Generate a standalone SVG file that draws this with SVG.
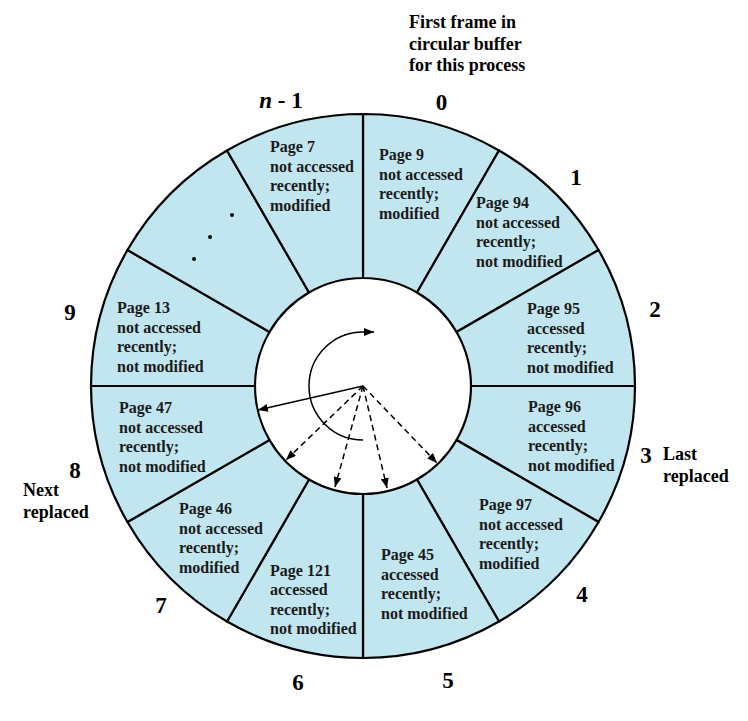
<svg xmlns="http://www.w3.org/2000/svg" width="748" height="721" viewBox="0 0 748 721">
<style>
.seg{fill:#c2e6f0;stroke:#000;stroke-width:2.2;stroke-linejoin:round}
.t{font-family:"Liberation Serif","Times New Roman",serif;font-weight:bold;font-size:16px;fill:#1a1a1a}
.num{font-family:"Liberation Serif","Times New Roman",serif;font-weight:bold;font-size:23px;fill:#000;text-anchor:middle}
.ann{font-family:"Liberation Serif","Times New Roman",serif;font-weight:bold;font-size:18px;fill:#000}
.arr{fill:none;stroke:#000;stroke-width:1.5}
.dash{stroke-dasharray:6 4}
</style>
<defs>
<marker id="ah" viewBox="0 0 10 8" refX="10" refY="4" markerWidth="10" markerHeight="8" markerUnits="userSpaceOnUse" orient="auto">
<path d="M0 0 L10 4 L0 8 Z" fill="#000"/>
</marker>
</defs>
<rect width="748" height="721" fill="#fff"/>

<g id="seg0">
<path class="seg" d="M363 278 L363 114 A272 272 0 0 1 499 150.44 L417 292.47 A108 108 0 0 0 363 278 Z"/>
<text class="t" x="379" y="160">Page 9<tspan x="379" dy="19.5">not accessed</tspan><tspan x="379" dy="19.5">recently;</tspan><tspan x="379" dy="19.5">modified</tspan></text>
<text class="num" x="441.5" y="110">0</text>
</g>
<g id="seg1">
<path class="seg" d="M417 292.47 L499 150.44 A272 272 0 0 1 598.56 250 L456.53 332 A108 108 0 0 0 417 292.47 Z"/>
<text class="t" x="476" y="208">Page 94<tspan x="476" dy="19.6">not accessed</tspan><tspan x="476" dy="19.6">recently;</tspan><tspan x="476" dy="19.6">not modified</tspan></text>
<text class="num" x="576" y="185">1</text>
</g>
<g id="seg2">
<path class="seg" d="M456.53 332 L598.56 250 A272 272 0 0 1 635 386 L471 386 A108 108 0 0 0 456.53 332 Z"/>
<text class="t" x="527" y="314">Page 95<tspan x="527" dy="19.5">accessed</tspan><tspan x="527" dy="19.5">recently;</tspan><tspan x="527" dy="19.5">not modified</tspan></text>
<text class="num" x="655" y="317">2</text>
</g>
<g id="seg3">
<path class="seg" d="M471 386 L635 386 A272 272 0 0 1 598.56 522 L456.53 440 A108 108 0 0 0 471 386 Z"/>
<text class="t" x="528" y="412">Page 96<tspan x="528" dy="19.6">accessed</tspan><tspan x="528" dy="19.6">recently;</tspan><tspan x="528" dy="19.6">not modified</tspan></text>
<text class="num" x="646" y="463">3</text>
<text class="ann" x="663" y="460">Last<tspan x="663" dy="22">replaced</tspan></text>
</g>
<g id="seg4">
<path class="seg" d="M456.53 440 L598.56 522 A272 272 0 0 1 499 621.56 L417 479.53 A108 108 0 0 0 456.53 440 Z"/>
<text class="t" x="479" y="510">Page 97<tspan x="479" dy="19.6">not accessed</tspan><tspan x="479" dy="19.6">recently;</tspan><tspan x="479" dy="19.6">modified</tspan></text>
<text class="num" x="582" y="602">4</text>
</g>
<g id="seg5">
<path class="seg" d="M417 479.53 L499 621.56 A272 272 0 0 1 363 658 L363 494 A108 108 0 0 0 417 479.53 Z"/>
<text class="t" x="381" y="560">Page 45<tspan x="381" dy="19.5">accessed</tspan><tspan x="381" dy="19.5">recently;</tspan><tspan x="381" dy="19.5">not modified</tspan></text>
<text class="num" x="448" y="688">5</text>
</g>
<g id="seg6">
<path class="seg" d="M363 494 L363 658 A272 272 0 0 1 227 621.56 L309 479.53 A108 108 0 0 0 363 494 Z"/>
<text class="t" x="270" y="576">Page 121<tspan x="270" dy="19.4">accessed</tspan><tspan x="270" dy="19.4">recently;</tspan><tspan x="270" dy="19.4">not modified</tspan></text>
<text class="num" x="298" y="690">6</text>
</g>
<g id="seg7">
<path class="seg" d="M309 479.53 L227 621.56 A272 272 0 0 1 127.44 522 L269.47 440 A108 108 0 0 0 309 479.53 Z"/>
<text class="t" x="179" y="514">Page 46<tspan x="179" dy="19.6">not accessed</tspan><tspan x="179" dy="19.6">recently;</tspan><tspan x="179" dy="19.6">modified</tspan></text>
<text class="num" x="161" y="613">7</text>
</g>
<g id="seg8">
<path class="seg" d="M269.47 440 L127.44 522 A272 272 0 0 1 91 386 L255 386 A108 108 0 0 0 269.47 440 Z"/>
<text class="t" x="119" y="413">Page 47<tspan x="119" dy="19.7">not accessed</tspan><tspan x="119" dy="19.7">recently;</tspan><tspan x="119" dy="19.7">not modified</tspan></text>
<text class="num" x="75" y="478">8</text>
<text class="ann" x="23" y="496">Next<tspan x="23" dy="22">replaced</tspan></text>
</g>
<g id="seg9">
<path class="seg" d="M255 386 L91 386 A272 272 0 0 1 127.44 250 L269.47 332 A108 108 0 0 0 255 386 Z"/>
<text class="t" x="117" y="313">Page 13<tspan x="117" dy="19.6">not accessed</tspan><tspan x="117" dy="19.6">recently;</tspan><tspan x="117" dy="19.6">not modified</tspan></text>
<text class="num" x="70" y="320">9</text>
</g>
<g id="seg10">
<path class="seg" d="M269.47 332 L127.44 250 A272 272 0 0 1 227 150.44 L309 292.47 A108 108 0 0 0 269.47 332 Z"/>
<circle cx="232" cy="215" r="2" fill="#000"/>
<circle cx="210" cy="237" r="2" fill="#000"/>
<circle cx="194" cy="259" r="2" fill="#000"/>
</g>
<g id="seg11">
<path class="seg" d="M309 292.47 L227 150.44 A272 272 0 0 1 363 114 L363 278 A108 108 0 0 0 309 292.47 Z"/>
<text class="t" x="270" y="152">Page 7<tspan x="270" dy="19.7">not accessed</tspan><tspan x="270" dy="19.7">recently;</tspan><tspan x="270" dy="19.7">modified</tspan></text>
<text class="num" x="281" y="108"><tspan font-style="italic">n</tspan> - 1</text>
</g>

<g id="first-frame-note">
<text class="ann" x="409" y="28">First frame in<tspan x="409" dy="21.5">circular buffer</tspan><tspan x="409" dy="21.5">for this process</tspan></text>
</g>

<g id="connectors">
<path class="arr" d="M363 440 A54 54 0 0 1 363 332 L374 332" stroke-width="1.3" marker-end="url(#ah)"/>
<line class="arr" x1="363" y1="386" x2="258" y2="410" marker-end="url(#ah)"/>
<line class="arr dash" x1="363" y1="386" x2="286" y2="460" marker-end="url(#ah)"/>
<line class="arr dash" x1="363" y1="386" x2="335" y2="487" marker-end="url(#ah)"/>
<line class="arr dash" x1="363" y1="386" x2="387" y2="488" marker-end="url(#ah)"/>
<line class="arr dash" x1="363" y1="386" x2="437" y2="463" marker-end="url(#ah)"/>
</g>
</svg>
